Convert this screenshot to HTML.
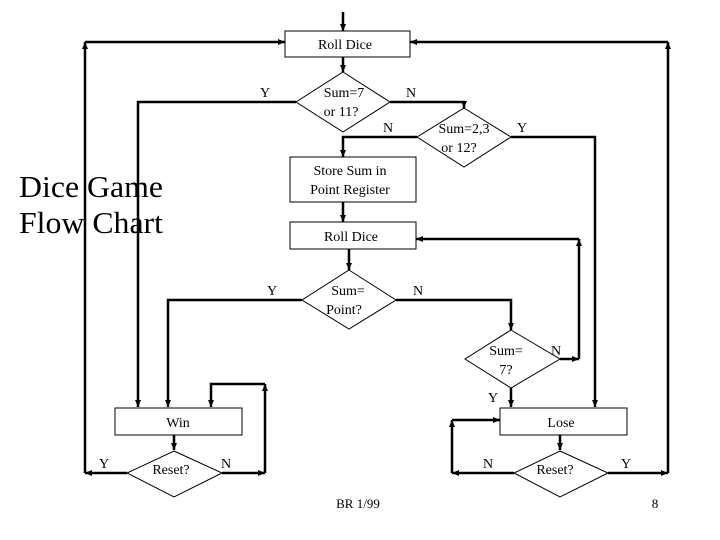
<!DOCTYPE html>
<html><head><meta charset="utf-8"><style>
html,body{margin:0;padding:0;background:#fff;}
svg{display:block;}
text{font-family:"Liberation Serif",serif;fill:#000;}
.l{font-size:14px;}
</style></head><body>
<svg width="720" height="540" viewBox="0 0 720 540" xmlns="http://www.w3.org/2000/svg">
<defs>
<marker id="a" markerWidth="8" markerHeight="8" refX="7" refY="4" orient="auto" markerUnits="userSpaceOnUse">
<path d="M0,1 L7,4 L0,7 Z" fill="#000"/></marker>
</defs>
<text x="19" y="197" font-size="31" textLength="144" lengthAdjust="spacingAndGlyphs">Dice Game</text>
<text x="19" y="233" font-size="31" textLength="144" lengthAdjust="spacingAndGlyphs">Flow Chart</text>
<g stroke="#000" stroke-width="2.5" fill="none">
<line x1="343" y1="12" x2="343" y2="31" marker-end="url(#a)"/>
<line x1="85" y1="473" x2="85" y2="42" marker-end="url(#a)"/><line x1="85" y1="42" x2="285" y2="42" marker-end="url(#a)"/>
<line x1="668" y1="473" x2="668" y2="42" marker-end="url(#a)"/><line x1="668" y1="42" x2="410" y2="42" marker-end="url(#a)"/>
<line x1="343" y1="57" x2="343" y2="72" marker-end="url(#a)"/>
<polyline points="296,102 138,102 138,407" marker-end="url(#a)"/>
<polyline points="390,102 464,102 464,108" marker-end="url(#a)"/>
<polyline points="417,137 343,137 343,157" marker-end="url(#a)"/>
<polyline points="511,137 595,137 595,407" marker-end="url(#a)"/>
<line x1="343" y1="202" x2="343" y2="222" marker-end="url(#a)"/>
<line x1="560" y1="359" x2="579" y2="359" marker-end="url(#a)"/>
<line x1="579" y1="359" x2="579" y2="239" marker-end="url(#a)"/><line x1="579" y1="239" x2="416" y2="239" marker-end="url(#a)"/>
<line x1="349" y1="249" x2="349" y2="270" marker-end="url(#a)"/>
<polyline points="302,300 168,300 168,407" marker-end="url(#a)"/>
<polyline points="396,300 511,300 511,330" marker-end="url(#a)"/>
<line x1="511" y1="388" x2="511" y2="407" marker-end="url(#a)"/>
<line x1="174" y1="435" x2="174" y2="450" marker-end="url(#a)"/>
<line x1="222" y1="473" x2="265" y2="473" marker-end="url(#a)"/>
<line x1="265" y1="473" x2="265" y2="384" marker-end="url(#a)"/>
<polyline points="265,384 211,384 211,407" marker-end="url(#a)"/>
<line x1="127" y1="473" x2="85" y2="473" marker-end="url(#a)"/>
<line x1="560" y1="435" x2="560" y2="450" marker-end="url(#a)"/>
<line x1="514" y1="473" x2="452" y2="473" marker-end="url(#a)"/>
<line x1="452" y1="473" x2="452" y2="420" marker-end="url(#a)"/>
<line x1="452" y1="420" x2="500" y2="420" marker-end="url(#a)"/>
<line x1="608" y1="473" x2="668" y2="473" marker-end="url(#a)"/>
</g>
<g stroke="#000" stroke-width="1" fill="#fff">
<rect x="285" y="31" width="125" height="26"/>
<polygon points="343,72 390,102 343,132 296,102"/>
<polygon points="464,108 511,137 464,167 417,137"/>
<rect x="290" y="157" width="126" height="45"/>
<rect x="290" y="222" width="126" height="27"/>
<polygon points="349,270 396,300 349,329 302,300"/>
<polygon points="511,330 560,359 511,388 465,359"/>
<rect x="115" y="408" width="127" height="27"/>
<rect x="500" y="408" width="127" height="27"/>
<polygon points="174,451 222,473 174,497 127,473"/>
<polygon points="560,451 608,473 560,497 514,473"/>
</g>
<g class="l" text-anchor="middle">
<text x="345" y="49">Roll Dice</text>
<text x="344" y="97">Sum=7</text><text x="341" y="116">or 11?</text>
<text x="464" y="133">Sum=2,3</text><text x="459" y="152">or 12?</text>
<text x="350" y="175">Store Sum in</text><text x="350" y="194">Point Register</text>
<text x="351" y="241">Roll Dice</text>
<text x="348" y="295">Sum=</text><text x="344" y="314">Point?</text>
<text x="506" y="355">Sum=</text><text x="506" y="374">7?</text>
<text x="178" y="427">Win</text>
<text x="561" y="427">Lose</text>
<text x="171" y="474">Reset?</text>
<text x="555" y="474">Reset?</text>
<text x="265" y="97">Y</text><text x="411" y="97">N</text>
<text x="388" y="132">N</text><text x="522" y="132">Y</text>
<text x="272" y="295">Y</text><text x="418" y="295">N</text>
<text x="556" y="355">N</text><text x="493" y="402">Y</text>
<text x="104" y="468">Y</text><text x="226" y="468">N</text>
<text x="488" y="468">N</text><text x="626" y="468">Y</text>
</g>
<text x="358" y="508" font-size="13" text-anchor="middle">BR 1/99</text>
<text x="655" y="508" font-size="13" text-anchor="middle">8</text>
</svg>
</body></html>
